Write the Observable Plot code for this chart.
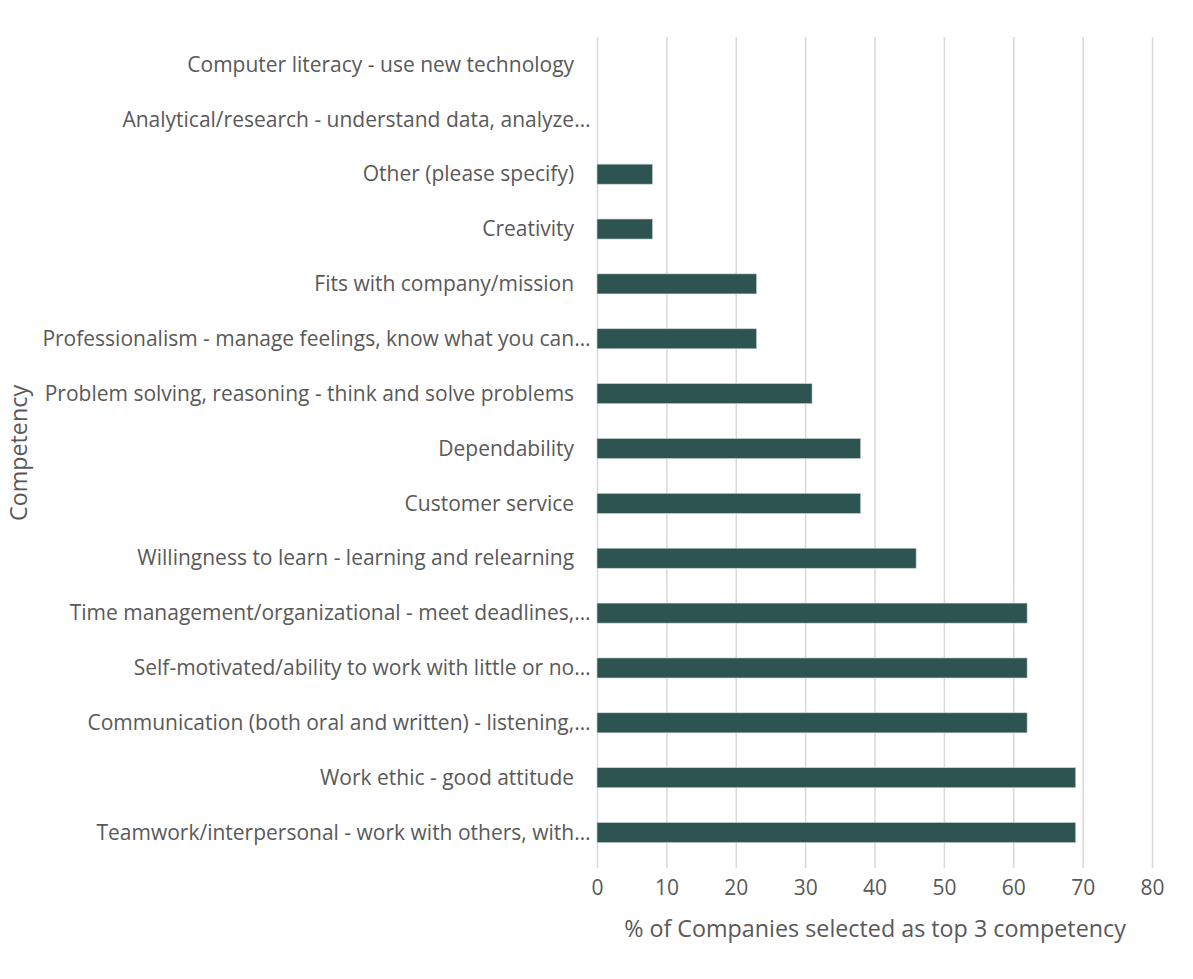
<!DOCTYPE html>
<html>
<head>
<meta charset="utf-8">
<script src="https://cdn.jsdelivr.net/npm/d3@7"></script>
<script src="https://cdn.jsdelivr.net/npm/@observablehq/plot@0.6"></script>
<style>
  html, body { margin: 0; padding: 0; background: #fff; }
  #chart svg { display: block; }
  #chart svg text { font-size: 21px; fill: #595959; }
  #chart svg g[aria-label="x-axis label"] text,
  #chart svg g[aria-label="y-axis label"] text { font-size: 23.3px; }
</style>
</head>
<body>
<div id="chart"></div>
<script>
// Categories, top to bottom as drawn
const competencies = [
  "Computer literacy - use new technology",
  "Analytical/research - understand data, analyze…",
  "Other (please specify)",
  "Creativity",
  "Fits with company/mission",
  "Professionalism - manage feelings, know what you can…",
  "Problem solving, reasoning - think and solve problems",
  "Dependability",
  "Customer service",
  "Willingness to learn - learning and relearning",
  "Time management/organizational - meet deadlines,…",
  "Self-motivated/ability to work with little or no…",
  "Communication (both oral and written) - listening,…",
  "Work ethic - good attitude",
  "Teamwork/interpersonal - work with others, with…"
];
// % of companies selecting as top 3 competency
const percents = [0, 0, 8, 8, 23, 23, 31, 38, 38, 46, 62, 62, 62, 69, 69];
const xTicks = [0, 10, 20, 30, 40, 50, 60, 70, 80];

const data = competencies.map((c, i) => ({competency: c, pct: percents[i]}));

const font = "'Open Sans', sans-serif";

const chart = Plot.plot({
  width: 1193,
  height: 979,
  marginLeft: 597,
  marginRight: 41,
  marginTop: 37,
  marginBottom: 111,
  style: {fontFamily: font, fontSize: "21px", color: "#595959", background: "#fff"},
  x: {domain: [0, 80]},
  y: {
    domain: competencies,
    range: [37, 860],
    round: false,
    paddingInner: 0.635,
    paddingOuter: 0.3175
  },
  marks: [
    Plot.ruleX(xTicks, {stroke: "#d9d9d9", strokeWidth: 1.5}),
    Plot.barX(data, {y: "competency", x: "pct", fill: "#2E5452", stroke: "#c9d3d2", strokeWidth: 0.6}),
    Plot.axisX({
      ticks: xTicks,
      tickSize: 0,
      tickPadding: 12,
      label: "% of Companies selected as top 3 competency",
      labelAnchor: "center",
      labelArrow: "none",
      labelOffset: 68
    }),
    Plot.axisY({
      tickSize: 0,
      tickPadding: 7,
      tickFormat: d => d.endsWith("…") ? d : d + "\u00a0\u00a0\u00a0",
      label: "Competency",
      labelAnchor: "center",
      labelArrow: "none",
      labelOffset: 587
    })
  ]
});

document.getElementById("chart").appendChild(chart);
</script>
</body>
</html>
